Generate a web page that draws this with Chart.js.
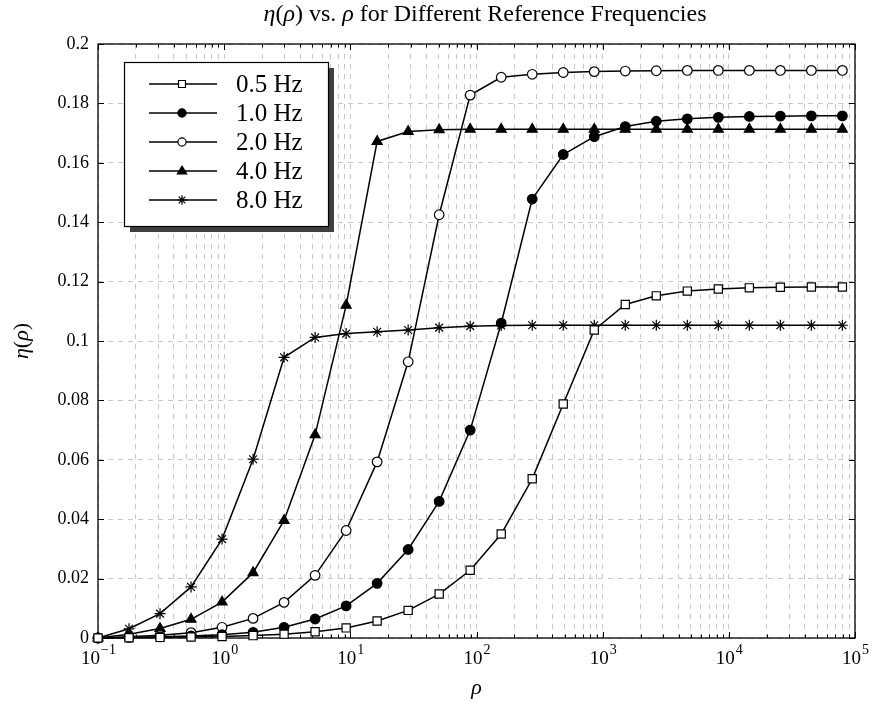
<!DOCTYPE html>
<html>
<head>
<meta charset="utf-8">
<script src="https://cdn.jsdelivr.net/npm/chart.js@4/dist/chart.umd.min.js"></script>
<style>
  html, body { margin: 0; padding: 0; background: #fff; }
  #wrap { width: 879px; height: 710px; }
</style>
</head>
<body>
<div id="wrap"><canvas id="etaChart" width="879" height="710"></canvas></div>
<script>
const rho = [0.1, 0.1761, 0.3102, 0.5464, 0.9623, 1.695, 2.985, 5.258, 9.262, 16.31, 28.73, 50.60,
             89.13, 157.0, 276.5, 487.0, 857.7, 1511, 2661, 4687, 8254, 14540, 25610, 45100, 79430];

const eta05 = [0, 0.0001, 0.0002, 0.0003, 0.0005, 0.0008, 0.0013, 0.0021, 0.0034, 0.0057, 0.0093, 0.0148,
               0.0228, 0.0350, 0.0536, 0.0788, 0.1037, 0.1123, 0.1152, 0.1168, 0.1175, 0.1179, 0.1181, 0.1182, 0.1182];
const eta10 = [0, 0.0002, 0.0004, 0.0007, 0.0011, 0.0019, 0.0036, 0.0064, 0.0108, 0.0184, 0.0298, 0.0460,
               0.0700, 0.1060, 0.1478, 0.1628, 0.1688, 0.1722, 0.1740, 0.1748, 0.1753, 0.1756, 0.1757, 0.1758, 0.1758];
const eta20 = [0, 0.0004, 0.0009, 0.0018, 0.0036, 0.0066, 0.0120, 0.0211, 0.0362, 0.0593, 0.0930, 0.1425,
               0.1828, 0.1888, 0.1898, 0.1904, 0.1907, 0.1909, 0.1910, 0.1911, 0.1911, 0.1911, 0.1911, 0.1911, 0.1911];
const eta40 = [0, 0.0013, 0.0032, 0.0063, 0.0121, 0.0220, 0.0396, 0.0684, 0.1120, 0.1672, 0.1705, 0.1711,
               0.1713, 0.1713, 0.1713, 0.1713, 0.1713, 0.1713, 0.1713, 0.1713, 0.1713, 0.1713, 0.1713, 0.1713, 0.1713];
const eta80 = [0, 0.0031, 0.0082, 0.0172, 0.0333, 0.0602, 0.0945, 0.1012, 0.1025, 0.1031, 0.1037, 0.1045,
               0.1050, 0.1052, 0.1053, 0.1053, 0.1053, 0.1053, 0.1053, 0.1053, 0.1053, 0.1053, 0.1053, 0.1053, 0.1053];

const seriesLabels = ['0.5 Hz', '1.0 Hz', '2.0 Hz', '4.0 Hz', '8.0 Hz'];

const yTicks = [0, 0.02, 0.04, 0.06, 0.08, 0.1, 0.12, 0.14, 0.16, 0.18, 0.2];
const yTickLabels = ['0', '0.02', '0.04', '0.06', '0.08', '0.1', '0.12', '0.14', '0.16', '0.18', '0.2'];
const xDecades = [0.1, 1, 10, 100, 1000, 10000, 100000];
const xExponents = ['−1', '0', '1', '2', '3', '4', '5'];

const FONT = '"Liberation Serif", "DejaVu Serif", serif';

// ticks at 1..9 of every decade (grid lines)
const xGridTicks = [];
for (let d = 0; d < xDecades.length; d++) {
    for (let m = 1; m <= 9; m++) {
        const v = xDecades[d] * m;
        if (v <= 100000 + 1e-9) xGridTicks.push(v);
        if (d === xDecades.length - 1) break;
    }
}

function drawRich(ctx, parts, x, y, size, align) {
    let w = 0;
    parts.forEach(p => {
        ctx.font = (p[1] ? 'italic ' : '') + size + 'px ' + FONT;
        w += ctx.measureText(p[0]).width;
    });
    let cx = align === 'center' ? x - w / 2 : x;
    ctx.textAlign = 'left';
    parts.forEach(p => {
        ctx.font = (p[1] ? 'italic ' : '') + size + 'px ' + FONT;
        ctx.fillText(p[0], cx, y);
        cx += ctx.measureText(p[0]).width;
    });
}

function drawMarker(ctx, style, fill, x, y, r) {
    ctx.save();
    ctx.fillStyle = fill;
    ctx.strokeStyle = '#000';
    ctx.lineWidth = 1.2;
    ctx.beginPath();
    if (style === 'rect') {
        const s = r * Math.SQRT1_2;
        ctx.rect(x - s, y - s, 2 * s, 2 * s);
        ctx.fill(); ctx.stroke();
    } else if (style === 'circle') {
        ctx.arc(x, y, r, 0, Math.PI * 2);
        ctx.fill(); ctx.stroke();
    } else if (style === 'triangle') {
        ctx.moveTo(x, y - r);
        ctx.lineTo(x + r * 0.95, y + r * 0.6);
        ctx.lineTo(x - r * 0.95, y + r * 0.6);
        ctx.closePath();
        ctx.fill(); ctx.stroke();
    } else {
        for (let i = 0; i < 4; i++) {
            const a = i * Math.PI / 4;
            ctx.moveTo(x - Math.cos(a) * r, y - Math.sin(a) * r);
            ctx.lineTo(x + Math.cos(a) * r, y + Math.sin(a) * r);
        }
        ctx.stroke();
    }
    ctx.restore();
}

const decor = {
    id: 'decor',
    beforeDatasetsDraw(chart) {
        const { ctx, chartArea: a, scales: { x, y } } = chart;
        ctx.save();
        ctx.strokeStyle = '#000';
        ctx.lineWidth = 1;
        // tick marks, inside, all sides
        ctx.beginPath();
        xGridTicks.forEach(v => {
            const px = Math.round(x.getPixelForValue(v)) + 0.5;
            const major = xDecades.includes(v);
            const len = major ? 6 : 3.5;
            ctx.moveTo(px, a.bottom); ctx.lineTo(px, a.bottom - len);
            ctx.moveTo(px, a.top); ctx.lineTo(px, a.top + len);
        });
        yTicks.forEach(v => {
            const py = Math.round(y.getPixelForValue(v)) + 0.5;
            ctx.moveTo(a.left, py); ctx.lineTo(a.left + 6, py);
            ctx.moveTo(a.right, py); ctx.lineTo(a.right - 6, py);
        });
        ctx.stroke();
        ctx.lineWidth = 1.3;
        ctx.strokeRect(a.left, a.top, a.right - a.left, a.bottom - a.top);
        ctx.restore();
    },
    afterDraw(chart) {
        const { ctx, chartArea: a, scales: { x, y } } = chart;
        ctx.save();
        ctx.fillStyle = '#000';
        ctx.textBaseline = 'alphabetic';

        // title
        drawRich(ctx, [['η', 1], ['(', 0], ['ρ', 1], [') vs. ', 0], ['ρ', 1], [' for Different Reference Frequencies', 0]],
                 485, 21, 24, 'center');

        // x tick labels 10^k
        xDecades.forEach((v, i) => {
            const px = x.getPixelForValue(v);
            ctx.font = '19px ' + FONT;
            const wb = ctx.measureText('10').width;
            ctx.font = '14px ' + FONT;
            const we = ctx.measureText(xExponents[i]).width;
            const left = px - (wb + we) / 2;
            ctx.font = '19px ' + FONT;
            ctx.textAlign = 'left';
            ctx.fillText('10', left, a.bottom + 26);
            ctx.font = '14px ' + FONT;
            ctx.fillText(xExponents[i], left + wb + 1, a.bottom + 16);
        });

        // axis titles
        drawRich(ctx, [['ρ', 1]], (a.left + a.right) / 2, 694, 22, 'center');
        ctx.save();
        ctx.translate(28, (a.top + a.bottom) / 2);
        ctx.rotate(-Math.PI / 2);
        drawRich(ctx, [['η', 1], ['(', 0], ['ρ', 1], [')', 0]], 0, 0, 22, 'center');
        ctx.restore();

        // legend with shadow
        const lx = 124, ly = 62, lw = 204, lh = 164;
        ctx.fillStyle = '#404040';
        ctx.fillRect(lx + 6, ly + 6, lw, lh);
        ctx.fillStyle = '#fff';
        ctx.fillRect(lx, ly, lw, lh);
        ctx.strokeStyle = '#000';
        ctx.lineWidth = 1.2;
        ctx.strokeRect(lx + 0.5, ly + 0.5, lw, lh);
        chart.data.datasets.forEach((ds, i) => {
            const ry = 84 + i * 29;
            ctx.strokeStyle = '#000';
            ctx.lineWidth = 1.5;
            ctx.beginPath();
            ctx.moveTo(149, ry); ctx.lineTo(217, ry);
            ctx.stroke();
            drawMarker(ctx, ds.pointStyle, ds.pointBackgroundColor, 182, ry, ds.pointRadius * 0.85);
            ctx.fillStyle = '#000';
            ctx.font = '25px ' + FONT;
            ctx.textAlign = 'left';
            ctx.fillText(ds.label, 236, ry + 8);
        });
        ctx.restore();
    }
};

function series(label, data, style, fill, r) {
    return {
        label: label,
        data: rho.map((v, i) => ({ x: v, y: data[i] })),
        borderColor: '#000',
        borderWidth: 1.5,
        pointStyle: style,
        pointRadius: r,
        pointBorderWidth: 1.2,
        pointBorderColor: '#000',
        pointBackgroundColor: fill,
        tension: 0,
        clip: false
    };
}

new Chart(document.getElementById('etaChart'), {
    type: 'line',
    data: {
        datasets: [
            series(seriesLabels[0], eta05, 'rect', '#fff', 5.8),
            series(seriesLabels[1], eta10, 'circle', '#000', 4.8),
            series(seriesLabels[2], eta20, 'circle', '#fff', 4.8),
            series(seriesLabels[3], eta40, 'triangle', '#000', 5.8),
            series(seriesLabels[4], eta80, 'star', '#000', 5.5)
        ]
    },
    options: {
        responsive: false,
        animation: false,
        layout: { padding: { top: 44, right: 24, left: 0, bottom: 0 } },
        plugins: {
            legend: { display: false },
            title: { display: false },
            tooltip: { enabled: false }
        },
        scales: {
            x: {
                type: 'logarithmic',
                min: 0.1,
                max: 100000,
                afterBuildTicks: (scale) => { scale.ticks = xGridTicks.map(v => ({ value: v })); },
                afterFit: (scale) => { scale.height = 72; },
                ticks: { callback: () => '', autoSkip: false, maxRotation: 0 },
                grid: { color: '#c8c8c8', lineWidth: 1, drawTicks: false },
                border: { display: false, dash: [5, 5] }
            },
            y: {
                min: 0,
                max: 0.2,
                afterBuildTicks: (scale) => { scale.ticks = yTicks.map(v => ({ value: v })); },
                afterFit: (scale) => { scale.width = 98; },
                ticks: {
                    color: '#000',
                    padding: 9,
                    font: { family: FONT, size: 18 },
                    callback: (v, i) => yTickLabels[i]
                },
                grid: { color: '#c8c8c8', lineWidth: 1, drawTicks: false },
                border: { display: false, dash: [5, 5] }
            }
        }
    },
    plugins: [decor]
});
</script>
</body>
</html>
